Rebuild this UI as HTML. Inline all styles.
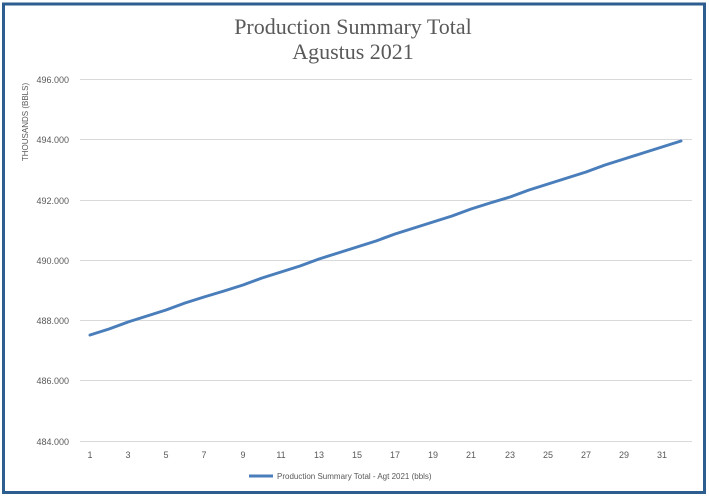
<!DOCTYPE html>
<html><head><meta charset="utf-8"><style>
body{margin:0;background:#fff;}
svg{display:block;}
</style></head><body>
<svg width="709" height="498" xmlns="http://www.w3.org/2000/svg">
<rect x="0" y="0" width="709" height="498" fill="#fff"/>
<rect x="3.5" y="4" width="701" height="488.5" fill="none" stroke="#2e5d8f" stroke-width="3"/>
<g font-family="Liberation Serif, serif" font-size="22" fill="#595959" text-anchor="middle">
<text x="353" y="34">Production Summary Total</text>
<text x="353" y="59">Agustus 2021</text>
</g>
<g stroke="#d9d9d9" stroke-width="1">
<line x1="80" y1="79.5" x2="692" y2="79.5"/>
<line x1="80" y1="139.5" x2="692" y2="139.5"/>
<line x1="80" y1="200.5" x2="692" y2="200.5"/>
<line x1="80" y1="260.5" x2="692" y2="260.5"/>
<line x1="80" y1="320.5" x2="692" y2="320.5"/>
<line x1="80" y1="380.5" x2="692" y2="380.5"/>
<line x1="80" y1="441.5" x2="692" y2="441.5"/>
</g>
<g font-family="Liberation Sans, sans-serif" font-size="9" fill="#595959" text-anchor="end">
<text x="69" y="83">496.000</text>
<text x="69" y="143">494.000</text>
<text x="69" y="204">492.000</text>
<text x="69" y="264">490.000</text>
<text x="69" y="324">488.000</text>
<text x="69" y="384">486.000</text>
<text x="69" y="445">484.000</text>
</g>
<text transform="translate(28,122) rotate(-90)" font-family="Liberation Sans, sans-serif" font-size="8" fill="#595959" text-anchor="middle">THOUSANDS (BBLS)</text>
<g font-family="Liberation Sans, sans-serif" font-size="9" fill="#595959" text-anchor="middle">
<text x="90" y="458">1</text><text x="128" y="458">3</text><text x="166" y="458">5</text><text x="204" y="458">7</text>
<text x="243" y="458">9</text><text x="281" y="458">11</text><text x="319" y="458">13</text><text x="357" y="458">15</text>
<text x="395" y="458">17</text><text x="433" y="458">19</text><text x="471" y="458">21</text><text x="510" y="458">23</text>
<text x="548" y="458">25</text><text x="586" y="458">27</text><text x="624" y="458">29</text><text x="662" y="458">31</text>
</g>
<polyline fill="none" stroke="#4a7ebb" stroke-width="3" stroke-linejoin="round" stroke-linecap="round"
points="90,335 109,329 128,322 147,316 166,310 185,303 204,297 224,291 243,285 262,278 281,272 300,266 319,259 338,253 357,247 376,241 395,234 414,228 433,222 452,216 471,209 490,203 510,197 529,190 548,184 567,178 586,172 605,165 624,159 643,153 662,147 681,141"/>
<line x1="249" y1="476" x2="273" y2="476" stroke="#4a7ebb" stroke-width="3"/>
<text x="277" y="479" font-family="Liberation Sans, sans-serif" font-size="8" fill="#595959">Production Summary Total - Agt 2021 (bbls)</text>
</svg>
</body></html>
